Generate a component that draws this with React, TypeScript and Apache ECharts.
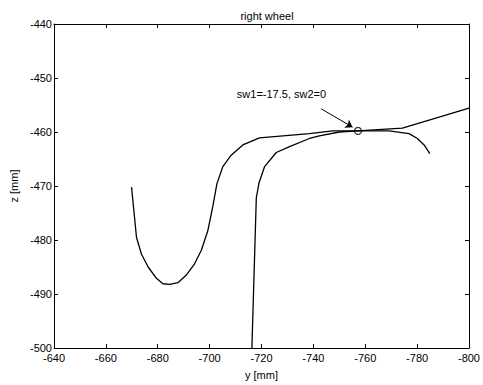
import React, { useEffect, useRef } from "react";
import * as echarts from "echarts";

const curveA: [number, number][] = [
  [-669.9, -470.2], [-670.8, -474.6], [-671.8, -479.5], [-673.7, -482.6],
  [-676.3, -485.0], [-679.5, -487.1], [-682.0, -488.1], [-684.6, -488.2],
  [-687.8, -487.9], [-691.0, -486.5], [-694.2, -484.4], [-696.8, -481.9],
  [-699.3, -478.3], [-701.3, -473.6], [-702.8, -469.6], [-705.1, -466.4],
  [-708.3, -464.3], [-712.8, -462.4], [-719.2, -461.1], [-738.5, -460.3],
  [-747.4, -459.8], [-757.0, -459.8], [-774.3, -459.3], [-785.9, -457.6],
  [-800.0, -455.6],
];

const curveB: [number, number][] = [
  [-716.3, -500.0], [-718.0, -472.2], [-719.0, -469.5], [-721.2, -466.4],
  [-725.7, -463.8], [-730.8, -462.7], [-738.5, -461.2], [-742.3, -460.7],
  [-750.0, -460.0], [-757.0, -459.8], [-769.2, -459.8], [-776.9, -460.3],
  [-780.1, -461.2], [-782.7, -462.4], [-784.9, -464.0],
];

const markerPoint: [number, number] = [-757.2, -459.8];
const arrowFrom: [number, number] = [-743.0, -455.7];
const arrowTo: [number, number] = [-755.1, -459.1];
const labelPoint: [number, number] = [-727.7, -453.0];
const labelText = "sw1=-17.5, sw2=0";
const titleText = "right wheel";
const xName = "y [mm]";
const yName = "z [mm]";

const FONT = "Liberation Sans, Arial, sans-serif";

export default function App() {
  const ref = useRef<HTMLDivElement>(null);
  useEffect(() => {
    if (!ref.current) return;
    const chart = echarts.init(ref.current, null, { renderer: "svg" });
    const axisLine = { show: true, lineStyle: { color: "#000", width: 1 } };
    const tick = { show: true, inside: true, length: 4, lineStyle: { color: "#000" } };
    const label = { color: "#000", fontSize: 11, fontFamily: FONT };
    chart.setOption({
      animation: false,
      title: {
        text: titleText,
        left: 262,
        textAlign: "center",
        top: 5,
        textStyle: { fontSize: 11, fontWeight: "normal", color: "#000", fontFamily: FONT },
      },
      grid: { left: 54, right: 13, top: 24, bottom: 33, containLabel: false },
      xAxis: [
        {
          type: "value", inverse: true, min: -800, max: -640, interval: 20,
          axisLine, axisTick: tick, splitLine: { show: false },
          axisLabel: { ...label, margin: 4 },
          name: xName, nameLocation: "middle", nameGap: 21,
          nameTextStyle: { ...label },
        },
        {
          type: "value", inverse: true, min: -800, max: -640, interval: 20, position: "top",
          axisLine, axisTick: tick, splitLine: { show: false }, axisLabel: { show: false },
        },
      ],
      yAxis: [
        {
          type: "value", min: -500, max: -440, interval: 10,
          axisLine, axisTick: tick, splitLine: { show: false },
          axisLabel: { ...label, margin: 2 },
          name: yName, nameLocation: "middle", nameGap: 34,
          nameTextStyle: { ...label },
        },
        {
          type: "value", min: -500, max: -440, interval: 10, position: "right",
          axisLine, axisTick: tick, splitLine: { show: false }, axisLabel: { show: false },
        },
      ],
      series: [
        {
          type: "line", data: curveA, showSymbol: false, smooth: false,
          lineStyle: { color: "#000", width: 1.3 },
          markLine: {
            silent: true,
            symbol: ["none", "arrow"], symbolSize: 7,
            lineStyle: { color: "#000", width: 1, type: "solid" },
            label: { show: false },
            data: [[{ coord: arrowFrom }, { coord: arrowTo }]],
          },
          markPoint: {
            silent: true,
            data: [
              {
                coord: labelPoint, symbol: "circle", symbolSize: 0,
                label: { show: true, formatter: labelText, color: "#000", fontSize: 11, fontFamily: FONT, position: "inside" },
              },
            ],
          },
        },
        {
          type: "line", data: curveB, showSymbol: false, smooth: false,
          lineStyle: { color: "#000", width: 1.3 },
        },
        {
          type: "scatter", data: [markerPoint], symbol: "circle", symbolSize: 7,
          itemStyle: { color: "transparent", borderColor: "#000", borderWidth: 1.2 },
        },
      ],
    });
    return () => chart.dispose();
  }, []);
  return <div ref={ref} style={{ width: 483, height: 385, position: "absolute", left: 0, top: 0, background: "#fff" }} />;
}
